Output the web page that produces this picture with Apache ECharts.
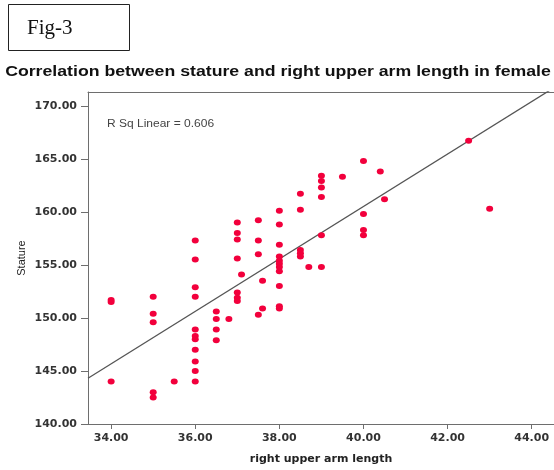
<!DOCTYPE html>
<html>
<head>
<meta charset="utf-8">
<script src="https://cdn.jsdelivr.net/npm/echarts@6/dist/echarts.min.js"></script>
<style>
  html, body { margin: 0; padding: 0; background: #fff; }
  #chart { width: 554px; height: 470px; }
</style>
</head>
<body>
<div id="chart"></div>
<script>
// Data
const armLength = [
  34, 34, 34,
  35, 35, 35, 35, 35,
  35.5,
  36, 36, 36, 36, 36, 36, 36, 36, 36, 36, 36,
  36.5, 36.5, 36.5, 36.5,
  36.8,
  37, 37, 37, 37, 37, 37, 37,
  37.1,
  37.5, 37.5, 37.5, 37.5,
  37.6, 37.6,
  38, 38, 38, 38, 38, 38, 38, 38, 38, 38, 38,
  38.5, 38.5, 38.5, 38.5, 38.5,
  38.7,
  39, 39, 39, 39, 39, 39,
  39.5,
  40, 40, 40, 40,
  40.4,
  40.5,
  42.5,
  43
];
const stature = [
  151.5, 151.7, 144.0,
  152.0, 150.4, 149.6, 143.0, 142.5,
  144.0,
  157.3, 155.5, 152.9, 152.0, 148.9, 148.3, 148.0, 147.0, 145.9, 145.0, 144.0,
  150.6, 149.9, 148.9, 147.9,
  149.9,
  159.0, 158.0, 157.4, 155.6, 152.4, 151.9, 151.6,
  154.1,
  159.2, 157.3, 156.0, 150.3,
  153.5, 150.9,
  160.1, 158.8, 156.9, 155.8, 155.4, 155.1, 154.8, 154.4, 153.0, 151.1, 150.9,
  161.7, 160.2, 156.4, 156.1, 155.8,
  154.8,
  163.4, 162.9, 162.3, 161.4, 157.8, 154.8,
  163.3,
  164.8, 159.8, 158.3, 157.8,
  163.8,
  161.2,
  166.7,
  160.3
];
const xTicks = [34, 36, 38, 40, 42, 44];
const yTicks = [140, 145, 150, 155, 160, 165, 170];
const fitIntercept = 61.63;
const fitSlope = 2.472;
const rSquared = 0.606;

const xMin = 33.45, xMax = 44.53;
const yMin = 140, yMax = 171.3;

const points = armLength.map((x, i) => [x, stature[i]]);
const fitLine = [xMin, xMax].map(x => [x, fitIntercept + fitSlope * x]);

const chart = echarts.init(document.getElementById('chart'), null, { renderer: 'canvas' });
const axisColor = '#6e6e6e';
const labelStyle = { fontFamily: 'DejaVu Sans', fontWeight: 'bold', fontSize: 11, color: '#333' };

chart.setOption({
  animation: false,
  backgroundColor: '#fff',
  grid: { left: 88, top: 92, right: 0, bottom: 45, containLabel: false },
  xAxis: [{
    type: 'value', min: xMin, max: xMax,
    name: 'right upper arm length', nameLocation: 'middle', nameGap: 30, nameMoveOverlap: false,
    nameTextStyle: { fontFamily: 'DejaVu Sans', fontWeight: 'bold', fontSize: 11, color: '#222' },
    axisLine: { show: true, onZero: false, lineStyle: { color: axisColor, width: 1 } },
    axisTick: { show: true, length: 5, customValues: xTicks, lineStyle: { color: axisColor } },
    axisLabel: Object.assign({ customValues: xTicks, margin: 9, formatter: v => v.toFixed(2) }, labelStyle),
    splitLine: { show: false }
  }, {
    type: 'value', position: 'top', min: xMin, max: xMax,
    axisLine: { show: true, onZero: false, lineStyle: { color: axisColor, width: 1 } },
    axisTick: { show: false }, axisLabel: { show: false }, splitLine: { show: false }
  }],
  yAxis: {
    type: 'value', min: yMin, max: yMax,
    name: 'Stature', nameLocation: 'middle', nameGap: 61, nameRotate: 90, nameMoveOverlap: false,
    nameTextStyle: { fontFamily: 'Liberation Sans', fontSize: 11, color: '#222' },
    axisLine: { show: true, onZero: false, lineStyle: { color: axisColor, width: 1 } },
    axisTick: { show: true, length: 7, customValues: yTicks, lineStyle: { color: axisColor } },
    axisLabel: Object.assign({ customValues: yTicks, margin: 11, formatter: v => v.toFixed(2) }, labelStyle),
    splitLine: { show: false }
  },
  series: [{
    type: 'line',
    data: fitLine,
    symbol: 'none',
    clip: true,
    lineStyle: { color: '#555', width: 1.3 },
    z: 2
  }, {
    type: 'scatter',
    data: points,
    symbol: 'circle',
    symbolSize: [7, 6],
    itemStyle: { color: '#f2003c', opacity: 1 },
    z: 3
  }],
  graphic: [
    { type: 'rect', shape: { x: 8.5, y: 4.5, width: 121, height: 46 },
      style: { fill: '#fff', stroke: '#222', lineWidth: 1 } },
    { type: 'text', x: 27, y: 28,
      style: { text: 'Fig-3', font: '21px "Liberation Serif"', fill: '#111', textVerticalAlign: 'middle' } },
    { type: 'text', x: 278, y: 72, scaleX: 1.264,
      style: { text: 'Correlation between stature and right upper arm length in female',
        font: 'bold 14px "Liberation Sans"', fill: '#111', textAlign: 'center', textVerticalAlign: 'middle' } },
    { type: 'text', x: 107, y: 124, scaleX: 1.2,
      style: { text: 'R Sq Linear = ' + rSquared.toFixed(3), font: '10px "Liberation Sans"', fill: '#444', textVerticalAlign: 'middle' } }
  ]
});
</script>
</body>
</html>
